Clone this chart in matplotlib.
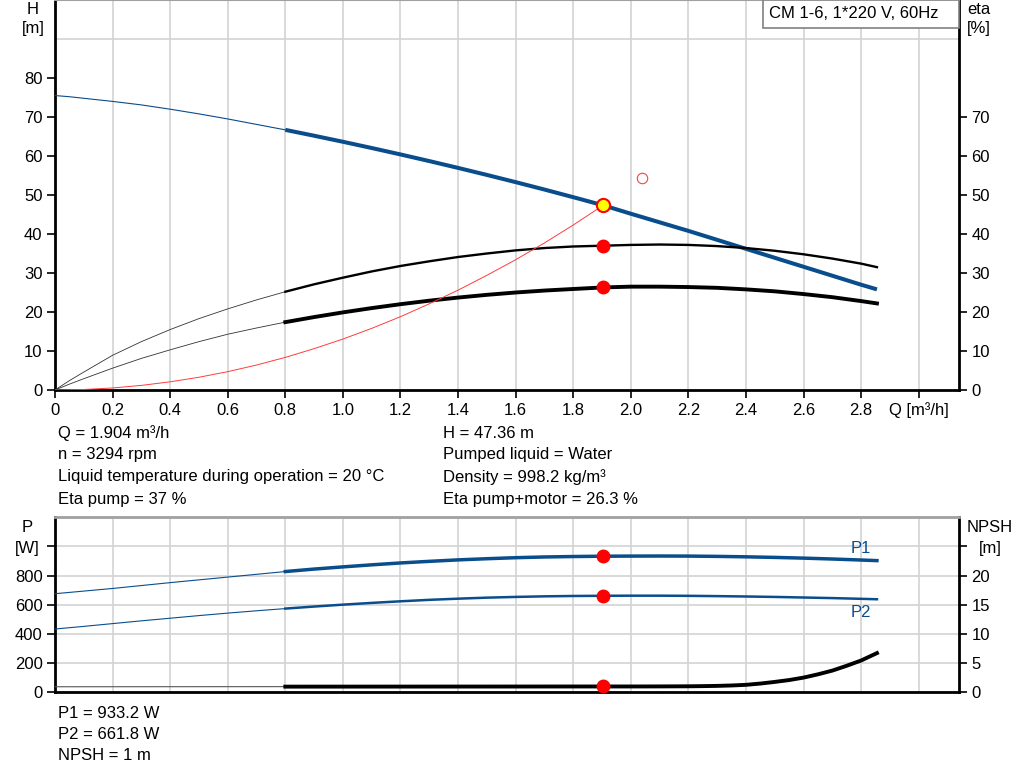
import matplotlib
matplotlib.use("Agg")
import matplotlib.pyplot as plt
from matplotlib.patches import Rectangle
import numpy as np

plt.rcParams['font.family'] = ['Liberation Sans', 'DejaVu Sans']

# ---------------- data ----------------
q = [0, 0.05, 0.1, 0.2, 0.3, 0.4, 0.5, 0.6, 0.7, 0.8, 0.9, 1.0, 1.1, 1.2, 1.3, 1.4, 1.5, 1.6,
     1.7, 1.8, 1.904, 2.0, 2.1, 2.2, 2.3, 2.4, 2.5, 2.6, 2.7, 2.8, 2.855]
head = [75.5, 75.2, 74.8, 74.0, 73.1, 72.0, 70.8, 69.5, 68.1, 66.7, 65.2, 63.65, 62.05, 60.4,
        58.7, 56.95, 55.15, 53.3, 51.4, 49.44, 47.36, 45.2, 43.0, 40.8, 38.5, 36.2, 33.9, 31.6,
        29.3, 27.0, 25.8]
eta_pump = [0, 2.4, 4.6, 8.9, 12.4, 15.5, 18.3, 20.8, 23.1, 25.2, 27.1, 28.8, 30.4, 31.8, 33.0,
            34.1, 35.0, 35.8, 36.4, 36.8, 37.0, 37.2, 37.3, 37.2, 36.9, 36.4, 35.7, 34.8, 33.7,
            32.4, 31.5]
eta_total = [0, 1.5, 2.9, 5.6, 8.1, 10.3, 12.4, 14.3, 15.9, 17.4, 18.7, 19.9, 21.0, 22.0, 22.9,
             23.7, 24.4, 25.0, 25.5, 25.9, 26.3, 26.5, 26.5, 26.4, 26.2, 25.8, 25.3, 24.6, 23.8,
             22.8, 22.2]
p1 = [676, 685, 694, 712, 732, 752, 771, 790, 809, 828, 845, 860, 874, 887, 898, 908, 916, 923,
      928, 931, 933.2, 934, 934.5, 934, 932, 929, 925, 920, 914, 907, 903]
p2 = [434, 443, 452, 471, 490, 508, 526, 543, 559, 574, 588, 601, 613, 624, 634, 642, 649, 654,
      658, 660.5, 661.8, 662.5, 662.5, 661.5, 659.5, 657, 654, 650, 646, 641, 638]

q_sys = [0, 0.1, 0.2, 0.3, 0.4, 0.5, 0.6, 0.7, 0.8, 0.9, 1.0, 1.1, 1.2, 1.3, 1.4, 1.5, 1.6, 1.7,
         1.8, 1.904]
h_sys = [0, 0.13, 0.52, 1.18, 2.1, 3.27, 4.7, 6.4, 8.36, 10.6, 13.06, 15.8, 18.8, 22.1, 25.6,
         29.4, 33.4, 37.7, 42.3, 47.36]

q_npsh = [0, 0.8, 1.2, 1.6, 1.904, 2.0, 2.1, 2.2, 2.25, 2.3, 2.35, 2.4, 2.45, 2.5, 2.55, 2.6,
          2.65, 2.7, 2.75, 2.8, 2.855]
npsh = [0.95, 0.97, 0.98, 0.99, 1.0, 1.0, 1.01, 1.03, 1.06, 1.1, 1.17, 1.28, 1.5, 1.78, 2.1,
        2.52, 3.08, 3.72, 4.55, 5.45, 6.72]

q_op = 1.904
h_op = 47.36
eta_pump_op = 37
eta_total_op = 26.3
p1_op = 933.2
p2_op = 661.8
npsh_op = 1
q_open, eta_open = 2.04, 54.3

x_ticks = [0, 0.2, 0.4, 0.6, 0.8, 1.0, 1.2, 1.4, 1.6, 1.8, 2.0, 2.2, 2.4, 2.6, 2.8, 3.0]
x_labels = ["0", "0.2", "0.4", "0.6", "0.8", "1.0", "1.2", "1.4", "1.6", "1.8",
            "2.0", "2.2", "2.4", "2.6", "2.8", "Q [m³/h]"]

title = "CM 1-6, 1*220 V, 60Hz"
info_left = ["Q = 1.904 m³/h", "n = 3294 rpm",
             "Liquid temperature during operation = 20 °C", "Eta pump = 37 %"]
info_right = ["H = 47.36 m", "Pumped liquid = Water",
              "Density = 998.2 kg/m³", "Eta pump+motor = 26.3 %"]
info_bottom = ["P1 = 933.2 W", "P2 = 661.8 W", "NPSH = 1 m"]

# ---------------- style ----------------
BLUE = '#0a4d8c'
GRID = '#d3d3d3'
FS = 12
W, Hh = 1024, 781

fig = plt.figure(figsize=(W / 100, Hh / 100), dpi=100)

def px_axes(left, top, right, bottom):
    return fig.add_axes([left / W, 1 - bottom / Hh, (right - left) / W, (bottom - top) / Hh])

def fx(x):
    return x / W

def fy(y):
    return 1 - y / Hh

qa = np.array(q)
thin = qa <= 0.8
thick = qa >= 0.8

# ---------- top axes ----------
ax = px_axes(55, 0, 959, 390)
ax.set_xlim(0, 3.14)
ax.set_ylim(0, 100)
ax.set_xticks(x_ticks)
ax.set_xticklabels(x_labels, fontsize=FS)
ax.set_yticks(np.arange(0, 81, 10))
ax.set_yticklabels([str(v) for v in range(0, 81, 10)], fontsize=FS)
ax.set_yticks(np.arange(10, 91, 10), minor=True)
ax.tick_params(which='minor', length=0)
ax.tick_params(which='major', direction='out', length=6, width=1.2, pad=3)
ax.grid(True, which='major', axis='x', color=GRID, lw=1.2, zorder=0)
ax.grid(True, which='minor', axis='y', color=GRID, lw=1.2, zorder=0)
ax.set_axisbelow(True)
for s in ['left', 'bottom', 'right']:
    ax.spines[s].set_linewidth(2)
    ax.spines[s].set_color('black')
ax.spines['top'].set_color('#a0a0a0')
ax.spines['top'].set_linewidth(1.5)

ax.plot(qa[thin], np.array(head)[thin], color=BLUE, lw=0.8, zorder=3)
ax.plot(qa[thick], np.array(head)[thick], color=BLUE, lw=2.9, zorder=3, solid_capstyle='butt')
ax.plot(qa[thin], np.array(eta_pump)[thin], color='#333333', lw=0.6, zorder=3)
ax.plot(qa[thick], np.array(eta_pump)[thick], color='black', lw=1.7, zorder=3)
ax.plot(qa[thin], np.array(eta_total)[thin], color='#333333', lw=0.6, zorder=3)
ax.plot(qa[thick], np.array(eta_total)[thick], color='black', lw=2.8, zorder=3)
ax.plot(q_sys, h_sys, color='#ff3c3c', lw=0.7, zorder=3)

ax.plot([q_op, q_op], [eta_pump_op, eta_total_op], 'o', ls='none', color='red', ms=9, zorder=5)
ax.plot([q_op], [h_op], 'o', color='#ffff00', mec='red', mew=1.5, ms=9.5, zorder=6)
ax.plot([q_open], [eta_open], 'o', mfc='none', mec='#ff4040', mew=0.8, ms=7.5, zorder=5)

axr = ax.twinx()
axr.set_ylim(0, 100)
axr.set_yticks(np.arange(0, 71, 10))
axr.set_yticklabels([str(v) for v in range(0, 71, 10)], fontsize=FS)
axr.tick_params(direction='out', length=6, width=1.2, pad=3)
for s in axr.spines.values():
    s.set_visible(False)

fig.text(fx(33), fy(10), "H", ha='center', va='center', fontsize=FS)
fig.text(fx(33), fy(29), "[m]", ha='center', va='center', fontsize=FS)
fig.text(fx(979), fy(10), "eta", ha='center', va='center', fontsize=FS)
fig.text(fx(979), fy(29), "[%]", ha='center', va='center', fontsize=FS)

# title box
fig.patches.append(Rectangle((fx(763), fy(28)), fx(959) - fx(763), fy(0) - fy(28),
                             transform=fig.transFigure, fc='white', ec='#808080', lw=1.2,
                             zorder=10))
fig.text(fx(769), fy(14), title, ha='left', va='center', fontsize=FS, zorder=11)

# info text
for i, t in enumerate(info_left):
    fig.text(fx(58), fy(433 + 22 * i), t, ha='left', va='center', fontsize=FS)
for i, t in enumerate(info_right):
    fig.text(fx(443), fy(433 + 22 * i), t, ha='left', va='center', fontsize=FS)
for i, t in enumerate(info_bottom):
    fig.text(fx(58), fy(713 + 21.5 * i), t, ha='left', va='center', fontsize=FS)

# ---------- bottom axes ----------
bx = px_axes(55, 517.3, 959, 692.3)
bx.set_xlim(0, 3.14)
bx.set_ylim(0, 1200)
bx.set_xticks(x_ticks)
bx.tick_params(axis='x', length=0, labelbottom=False)
bx.set_yticks(np.arange(0, 1001, 200))
bx.set_yticklabels(["0", "200", "400", "600", "800", ""], fontsize=FS)
bx.tick_params(axis='y', direction='out', length=6, width=1.2, pad=3)
bx.grid(True, axis='x', color=GRID, lw=1.2, zorder=0)
bx.grid(True, axis='y', color=GRID, lw=1.2, zorder=0)
bx.set_axisbelow(True)
for s in ['left', 'bottom', 'right']:
    bx.spines[s].set_linewidth(2)
    bx.spines[s].set_color('black')
bx.spines['top'].set_color('#a0a0a0')
bx.spines['top'].set_linewidth(2)

bx.plot(qa[thin], np.array(p1)[thin], color=BLUE, lw=0.8, zorder=3)
bx.plot(qa[thick], np.array(p1)[thick], color=BLUE, lw=2.5, zorder=3)
bx.plot(qa[thin], np.array(p2)[thin], color=BLUE, lw=0.8, zorder=3)
bx.plot(qa[thick], np.array(p2)[thick], color=BLUE, lw=1.8, zorder=3)
bx.plot([q_op, q_op], [p1_op, p2_op], 'o', ls='none', color='red', ms=9, zorder=5)
bx.text(2.80, 988, "P1", color=BLUE, fontsize=FS, ha='center', va='center')
bx.text(2.80, 547, "P2", color=BLUE, fontsize=FS, ha='center', va='center')

bxr = bx.twinx()
bxr.set_ylim(0, 30)
bxr.set_yticks(np.arange(0, 26, 5))
bxr.set_yticklabels(["0", "5", "10", "15", "20", ""], fontsize=FS)
bxr.tick_params(direction='out', length=6, width=1.2, pad=3)
for s in bxr.spines.values():
    s.set_visible(False)
qn = np.array(q_npsh)
nn = np.array(npsh)
bxr.plot(qn[qn <= 0.8], nn[qn <= 0.8], color='#555555', lw=0.8, zorder=3)
bxr.plot(qn[qn >= 0.8], nn[qn >= 0.8], color='black', lw=2.8, zorder=3)
bxr.plot([q_op], [npsh_op], 'o', color='red', ms=9, zorder=5)

fig.text(fx(27), fy(527), "P", ha='center', va='center', fontsize=FS)
fig.text(fx(27), fy(548), "[W]", ha='center', va='center', fontsize=FS)
fig.text(fx(990), fy(527), "NPSH", ha='center', va='center', fontsize=FS)
fig.text(fx(990), fy(548), "[m]", ha='center', va='center', fontsize=FS)

fig.savefig("out.png", dpi=100)
